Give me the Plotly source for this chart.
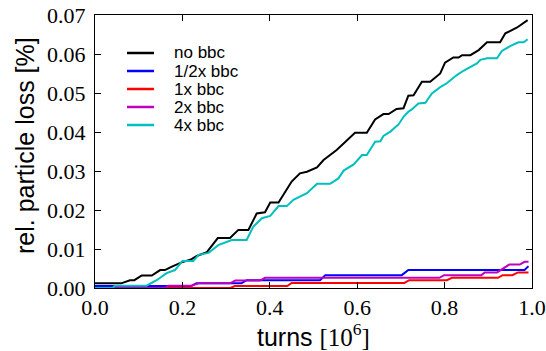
import plotly.graph_objects as go

# ---- data ----
series_names = ["no bbc", "1/2x bbc", "1x bbc", "2x bbc", "4x bbc"]
series_colors = ["#000000", "#0000FF", "#FF0000", "#BF00BF", "#00BFBF"]

x_nobbc = [0, 0.06, 0.08, 0.09, 0.107, 0.13, 0.149, 0.16, 0.176, 0.197, 0.221, 0.233,
           0.256, 0.281, 0.309, 0.328, 0.351, 0.370, 0.389, 0.401, 0.42, 0.45, 0.469,
           0.485, 0.508, 0.523, 0.553, 0.572, 0.595, 0.622, 0.641, 0.66, 0.672, 0.69,
           0.706, 0.717, 0.729, 0.748, 0.767, 0.79, 0.801, 0.82, 0.832, 0.84, 0.859,
           0.878, 0.897, 0.927, 0.939, 0.966, 0.99]
y_nobbc = [0.0012, 0.0012, 0.002, 0.002, 0.0032, 0.0032, 0.0046, 0.0046, 0.0055, 0.0065,
           0.0074, 0.0082, 0.0092, 0.0128, 0.0128, 0.0149, 0.0149, 0.0191, 0.0194, 0.0219,
           0.0219, 0.0273, 0.0294, 0.0298, 0.0309, 0.0328, 0.0354, 0.0375, 0.0398, 0.0398,
           0.0432, 0.0446, 0.0446, 0.0459, 0.0461, 0.0493, 0.0494, 0.0529, 0.0529, 0.055,
           0.0578, 0.0591, 0.0591, 0.0597, 0.0597, 0.061, 0.063, 0.063, 0.0653, 0.0668,
           0.0687]

x_half = [0, 0.22, 0.232, 0.335, 0.347, 0.515, 0.527, 0.702, 0.717, 0.983, 0.992]
y_half = [0.0005, 0.0005, 0.0012, 0.0012, 0.002, 0.002, 0.0033, 0.0033, 0.0046, 0.0046,
          0.0056]

x_one = [0, 0.31, 0.32, 0.44, 0.45, 0.708, 0.719, 0.805, 0.817, 0.922, 0.933, 0.955,
         0.968, 0.992]
y_one = [0, 0, 0.0005, 0.0005, 0.0013, 0.0013, 0.002, 0.002, 0.0026, 0.0026, 0.0033,
         0.0033, 0.004, 0.004]

x_two = [0, 0.16, 0.168, 0.221, 0.237, 0.309, 0.321, 0.378, 0.389, 0.788, 0.799, 0.884,
         0.892, 0.92, 0.948, 0.972, 0.983, 0.992]
y_two = [0, 0, 0.0006, 0.0006, 0.0012, 0.0012, 0.0019, 0.0019, 0.0026, 0.0026, 0.0033,
         0.0033, 0.004, 0.004, 0.006, 0.006, 0.0067, 0.0067]

x_four = [0, 0.04, 0.046, 0.118, 0.141, 0.164, 0.183, 0.2, 0.225, 0.237, 0.26, 0.282,
          0.313, 0.347, 0.362, 0.382, 0.401, 0.42, 0.439, 0.454, 0.485, 0.508, 0.538,
          0.557, 0.569, 0.592, 0.611, 0.622, 0.641, 0.653, 0.66, 0.676, 0.695, 0.706,
          0.717, 0.725, 0.74, 0.756, 0.771, 0.79, 0.805, 0.828, 0.843, 0.859, 0.874,
          0.882, 0.897, 0.92, 0.931, 0.95, 0.969, 0.981, 0.99]
y_four = [0.0, 0.0, 0.0006, 0.0006, 0.002, 0.0038, 0.0046, 0.0069, 0.0069, 0.0085, 0.009,
          0.011, 0.0123, 0.0123, 0.0157, 0.0179, 0.0185, 0.021, 0.021, 0.0226, 0.0243,
          0.0267, 0.0267, 0.0281, 0.0301, 0.0317, 0.0341, 0.0341, 0.0375, 0.0376, 0.039,
          0.0401, 0.042, 0.0439, 0.0452, 0.0458, 0.0473, 0.0475, 0.0499, 0.0515, 0.0525,
          0.0546, 0.0557, 0.0567, 0.0576, 0.0585, 0.0589, 0.0589, 0.0608, 0.062, 0.063,
          0.063, 0.0638]

x_ticks = [0.0, 0.2, 0.4, 0.6, 0.8, 1.0]
y_ticks = [0.00, 0.01, 0.02, 0.03, 0.04, 0.05, 0.06, 0.07]
x_title = "turns <span style='font-family:\"Liberation Serif\"'>[10<sup>6</sup>]</span>"
y_title = "rel. particle loss [%]"

series_x = [x_nobbc, x_half, x_one, x_two, x_four]
series_y = [y_nobbc, y_half, y_one, y_two, y_four]

# ---- layout geometry (pixels) ----
W, H = 546, 351
ML, MR, MT, MB = 95, 14, 15, 63
PW, PH = W - ML - MR, H - MT - MB

fig = go.Figure()
for name, col, xs, ys in zip(series_names, series_colors, series_x, series_y):
    fig.add_trace(go.Scatter(x=xs, y=ys, mode="lines", name=name,
                             line=dict(color=col, width=2), showlegend=False))

# manual legend (no frame), matching the matplotlib look
leg_rows = [53, 71, 89, 107, 125]
shapes, annotations = [], []
for name, col, py in zip(series_names, series_colors, leg_rows):
    yp = ((MT + PH) - py) / PH
    shapes.append(dict(type="line", xref="paper", yref="paper",
                       x0=(127 - ML) / PW, x1=(154 - ML) / PW, y0=yp, y1=yp,
                       line=dict(color=col, width=2.5)))
    annotations.append(dict(text=name, xref="paper", yref="paper",
                            x=(172 - ML) / PW, y=yp, xanchor="left", yanchor="middle",
                            showarrow=False,
                            font=dict(family="Liberation Sans", size=17, color="black")))

# axis titles
annotations.append(dict(text=y_title, xref="paper", yref="paper", x=0, y=0.5,
                        xshift=25 - ML, yshift=(MT + PH / 2) - 146, textangle=-90,
                        xanchor="center", yanchor="middle", showarrow=False,
                        font=dict(family="Liberation Sans", size=25, color="black")))
annotations.append(dict(text=x_title, xref="paper", yref="paper", x=0.5, y=0,
                        yshift=-(335 - (MT + PH)), xanchor="center", yanchor="middle",
                        showarrow=False,
                        font=dict(family="Liberation Sans", size=25, color="black")))

axis_common = dict(showline=True, linecolor="black", linewidth=1, mirror="ticks",
                   ticks="inside", ticklen=6, tickwidth=1, tickcolor="black",
                   showgrid=False, zeroline=False,
                   tickfont=dict(family="Liberation Serif", size=22, color="black"))

fig.update_layout(
    width=W, height=H,
    margin=dict(l=ML, r=MR, t=MT, b=MB, autoexpand=False),
    paper_bgcolor="white", plot_bgcolor="white",
    showlegend=False,
    xaxis=dict(range=[0, 1.0], tickvals=x_ticks, tickformat=".1f", **axis_common),
    yaxis=dict(range=[0, 0.07], tickvals=y_ticks, tickformat=".2f",
               ticklabelstandoff=4, **axis_common),
    shapes=shapes, annotations=annotations,
)

fig.write_html("out.html", config={"displayModeBar": False},
               post_script="document.body.style.margin='0';document.body.style.padding='0';")
